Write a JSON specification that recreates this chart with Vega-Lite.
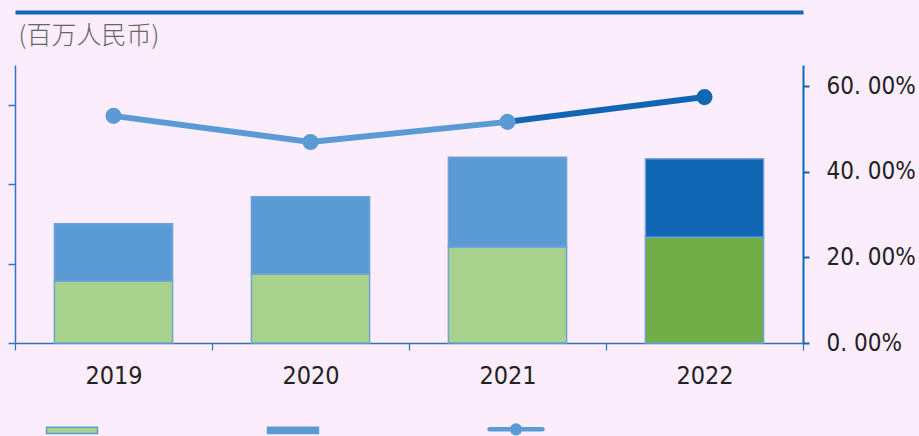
{
  "$schema": "https://vega.github.io/schema/vega-lite/v6.json",
  "width": 788,
  "height": 278,
  "autosize": "none",
  "padding": {"left": 15, "top": 65, "right": 116, "bottom": 93},
  "background": "#fcedfc",
  "config": {"view": {"stroke": null}},
  "datasets": {
    "bars": [
      {"year": "2019", "k": "G", "v": 78},
      {"year": "2019", "k": "B", "v": 72},
      {"year": "2020", "k": "G", "v": 87},
      {"year": "2020", "k": "B", "v": 97},
      {"year": "2021", "k": "G", "v": 121},
      {"year": "2021", "k": "B", "v": 113},
      {"year": "2022", "k": "GH", "v": 133},
      {"year": "2022", "k": "BH", "v": 99}
    ],
    "line": [
      {"year": "2019", "seg": "a", "p": 0.531},
      {"year": "2020", "seg": "a", "p": 0.470},
      {"year": "2021", "seg": "a", "p": 0.517},
      {"year": "2021", "seg": "b", "p": 0.517},
      {"year": "2022", "seg": "b", "p": 0.575}
    ],
    "points": [
      {"year": "2019", "k": "L", "p": 0.531},
      {"year": "2020", "k": "L", "p": 0.470},
      {"year": "2021", "k": "L", "p": 0.517},
      {"year": "2022", "k": "LH", "p": 0.575}
    ]
  },
  "resolve": {"scale": {"y": "independent"}, "axis": {"x": "independent", "y": "independent"}},
  "layer": [
    {
      "data": {"name": "bars"},
      "mark": {"type": "bar", "stroke": "#6fa3d8", "strokeWidth": 1.5, "width": {"band": 0.6}},
      "encoding": {
        "x": {
          "field": "year", "type": "nominal",
          "scale": {"paddingInner": 0, "paddingOuter": 0},
          "axis": {
            "orient": "bottom", "title": null, "labelAngle": 0,
            "domainColor": "#2e75b6", "domainWidth": 1.5,
            "tickColor": "#2e75b6", "tickWidth": 1.2, "tickSize": 7, "tickBand": "extent",
            "labelFont": "Liberation Sans Narrow, DejaVu Sans Condensed, sans-serif",
            "labelFontSize": 25, "labelColor": "#222222", "labelPadding": 13
          }
        },
        "y": {
          "field": "v", "type": "quantitative", "stack": "zero",
          "scale": {"domain": [0, 350], "nice": false},
          "axis": {
            "orient": "left", "values": [0, 100, 200, 300], "labels": false, "grid": false,
            "domainColor": "#2e75c6", "domainWidth": 1.5,
            "tickColor": "#2e75c6", "tickWidth": 1.5, "tickSize": 7,
            "title": "(百万人民币)", "titleAngle": 0, "titleAlign": "left", "titleBaseline": "top",
            "titleX": 3, "titleY": -42,
            "titleFont": "Noto Sans CJK SC", "titleFontSize": 25, "titleFontWeight": 300,
            "titleColor": "#666666"
          }
        },
        "order": {"field": "k", "sort": "descending"},
        "fill": {
          "field": "k", "type": "nominal",
          "scale": {
            "domain": ["G", "B", "L", "GH", "BH", "LH"],
            "range": ["#a9d18e", "#5b9bd5", "#5b9bd5", "#70ad47", "#1166b3", "#1166b3"]
          },
          "legend": {
            "values": ["G", "B", "L"],
            "orient": "none", "legendX": 28, "legendY": 335,
            "direction": "horizontal", "columns": 3,
            "title": null, "labelExpr": "''", "labelOffset": 0, "padding": 0,
            "columnPadding": 163,
            "symbolSize": 3136, "symbolType": "square",
            "symbolStrokeColor": "#5b9bd5", "symbolStrokeWidth": 1.5,
            "encode": {
              "symbols": {
                "update": {
                  "shape": {"signal": "datum.value === 'L' ? 'M-0.946,-0.054L0.946,-0.054A0.054,0.054 0 0 1 0.946,0.054L-0.946,0.054A0.054,0.054 0 0 1 -0.946,-0.054ZM-0.19,0A0.19,0.19 0 1 1 0.19,0A0.19,0.19 0 1 1 -0.19,0Z' : 'M-0.91,-0.116L0.91,-0.116L0.91,0.116L-0.91,0.116Z'"}
                }
              }
            }
          }
        }
      }
    },
    {
      "data": {"name": "line"},
      "mark": {"type": "line", "strokeWidth": 6},
      "encoding": {
        "x": {"field": "year", "type": "nominal", "axis": null},
        "y": {
          "field": "p", "type": "quantitative",
          "scale": {"domain": [0, 0.65], "nice": false},
          "axis": {
            "orient": "right", "values": [0, 0.2, 0.4, 0.6], "grid": false, "title": null,
            "labelExpr": "replace(format(datum.value, '.2%'), '.', '. ')",
            "domainColor": "#1166b3", "domainWidth": 2,
            "tickColor": "#1166b3", "tickWidth": 2, "tickSize": 6,
            "labelFont": "Liberation Sans Narrow, DejaVu Sans Condensed, sans-serif",
            "labelFontSize": 24, "labelColor": "#222222", "labelPadding": 17
          }
        },
        "stroke": {
          "field": "seg", "type": "nominal",
          "scale": {"domain": ["a", "b"], "range": ["#5b9bd5", "#1166b3"]},
          "legend": null
        }
      }
    },
    {
      "data": {"name": "points"},
      "mark": {"type": "circle", "size": 260, "opacity": 1},
      "encoding": {
        "x": {
          "field": "year", "type": "nominal",
          "axis": {
            "orient": "top", "offset": 53, "title": null, "labels": false, "ticks": false,
            "domainColor": "#1166b3", "domainWidth": 4
          }
        },
        "y": {
          "field": "p", "type": "quantitative",
          "scale": {"domain": [0, 0.65], "nice": false},
          "axis": null
        },
        "fill": {"field": "k", "type": "nominal"}
      }
    }
  ]
}
